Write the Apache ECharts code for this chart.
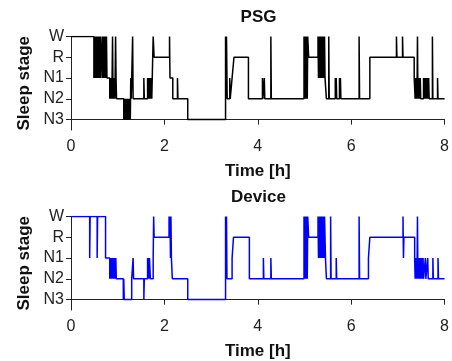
<!DOCTYPE html>
<html><head><meta charset="utf-8">
<script src="https://cdn.jsdelivr.net/npm/echarts@6/dist/echarts.min.js"></script>
<style>html,body{margin:0;padding:0;background:#fff}#c{width:452px;height:361px}</style>
</head><body><div id="c"></div>
<script>
const stageLabels = ['N3', 'N2', 'N1', 'R', 'W'];
const xTickValues = [0, 2, 4, 6, 8];
const panelTitles = ['PSG', 'Device'];

const psgTimes = [0,
  0.49,0.50,0.51,0.52,0.53,0.54,0.55,0.56,0.57,0.58,0.59,0.60,0.61,0.62,0.63,0.64,
  0.67,0.68,0.69,0.70,0.71,0.72,0.73,0.74,0.75,0.76,0.77,
  0.83,0.84,0.85,0.86,0.87,0.88,0.89,0.90,0.91,0.92,0.93,0.94,0.955,0.965,0.975,
  1.13,1.14,1.15,1.16,1.17,1.18,1.19,1.20,1.21,1.22,1.23,1.24,1.25,1.26,1.27,1.28,1.29,1.32,1.33,
  1.56,1.57,1.64,1.65,1.66,1.67,1.68,1.69,1.70,1.71,1.72,1.73,1.74,1.76,1.78,
  2.11,2.12,2.18,2.28,2.29,2.50,3.31,3.32,3.33,3.345,3.40,3.41,3.45,3.49,3.80,
  4.10,4.11,4.14,4.15,4.28,4.29,
  4.99,5.00,5.01,5.02,5.03,5.04,5.05,5.06,5.07,5.09,
  5.29,5.30,5.31,5.32,5.33,5.34,5.35,5.36,5.37,5.38,5.39,5.40,5.41,5.42,5.43,5.44,5.47,5.52,5.53,
  5.66,5.67,5.68,5.69,5.75,5.76,5.77,5.78,6.17,6.18,6.40,6.97,6.98,7.10,7.11,7.35,
  7.37,7.38,7.39,7.40,7.41,7.42,7.43,7.44,7.45,7.46,7.47,7.48,7.49,
  7.55,7.56,7.57,7.58,7.60,7.61,7.63,7.64,7.66,7.67,7.74,7.75,7.85,7.86,8.0];
const psgStages = ['W',
  'N1','W','N1','W','N1','W','N1','W','N1','W','N1','W','N1','W','N1','W',
  'N1','W','N1','W','N1','W','N1','W','N1','W','N1',
  'N2','N1','N2','N1','N2','N1','W','N2','N1','N2','N1','N2','W','N1','N2',
  'N3','N2','N3','N2','N3','N2','N3','N2','N3','N2','N3','N2','N3','N2','N3','N1','N2','W','N2',
  'N1','N2','N1','N2','N1','N2','N1','N2','N1','N2','N1','N2','N1','W','R',
  'W','N1','N2','N1','N2','N3','W','N2','W','N2','N1','N2','N1','R','N2',
  'N1','N2','N1','N2','W','N2',
  'W','N2','W','N2','W','N2','W','N2','W','R',
  'W','N1','W','N1','W','N1','W','N1','W','N1','W','N1','W','N1','W','N1','N2','W','N2',
  'N1','N2','N1','N2','N1','N2','N1','N2','W','N2','R','W','R','W','R','N1',
  'N2','N1','N2','N1','N2','W','N2','N1','N2','N1','N2','N1','N2',
  'N1','N2','N1','N2','N1','N2','N1','N2','N1','N2','W','N2','N1','N2','N2'];

const devTimes = [0,
  0.40,0.41,0.56,0.57,0.74,
  0.83,0.84,0.85,0.86,0.87,0.88,0.89,0.90,0.91,0.92,0.93,0.94,0.95,0.96,0.97,
  1.12,1.13,1.14,1.30,1.33,1.34,1.56,1.57,1.64,1.65,1.66,1.67,1.68,1.70,1.76,1.77,1.78,
  2.10,2.11,2.12,2.13,2.14,2.15,2.17,2.50,3.31,3.32,3.33,3.34,3.45,3.48,3.82,
  4.12,4.13,4.28,4.29,
  4.99,5.00,5.01,5.02,5.03,5.04,5.05,5.06,5.07,5.09,
  5.29,5.30,5.31,5.32,5.33,5.34,5.35,5.36,5.37,5.38,5.39,5.40,5.41,5.42,5.43,5.45,5.47,5.56,5.57,
  5.68,5.69,6.17,6.18,6.37,6.40,7.11,7.12,7.13,7.36,
  7.37,7.38,7.39,7.40,7.41,7.42,7.43,7.44,7.45,7.46,7.47,7.48,7.49,7.50,7.51,7.52,7.53,7.54,7.55,
  7.59,7.60,7.64,7.65,7.75,7.76,7.86,7.87,8.0];
const devStages = ['W',
  'N1','W','N1','W','N1',
  'N2','N1','N2','N1','N2','N1','N2','N1','N2','N1','N2','N1','N2','N1','N2',
  'N3','N2','N3','N2','N1','N2','N3','N2','N1','N2','N1','N2','N1','N2','N1','W','R',
  'W','R','W','N1','W','N1','N2','N3','W','N2','W','N2','N1','R','N2',
  'N1','N2','N1','N2',
  'W','N2','W','N2','W','N2','W','N2','W','R',
  'W','N1','W','N1','W','N1','W','N1','W','N1','W','N1','W','N1','W','N1','N2','W','N2',
  'N1','N2','W','N2','N1','R','W','N1','R','N1',
  'N2','N1','N2','N1','N2','W','N2','N1','N2','N1','N2','N1','N2','N1','N2','N1','N2','N1','N2',
  'N1','N2','N1','N2','N1','N2','N1','N2','N2'];

const FONT = '"Liberation Sans", Arial, sans-serif';
const toData = (ts, ss) => ts.map((t, i) => [t, stageLabels.indexOf(ss[i])]);

const gridTops = [36.5, 216.5];
const grids = gridTops.map(t => ({left: 71, right: 6, top: t, height: 93.5}));

const xAxes = grids.map((g, i) => ({
  type: 'value', gridIndex: i, min: 0, max: 8, interval: 2,
  name: 'Time [h]', nameLocation: 'middle', nameGap: 33,
  nameTextStyle: {fontFamily: FONT, fontSize: 17, fontWeight: 'bold', color: '#111'},
  axisLine: {show: true, lineStyle: {color: '#222', width: 1}},
  axisTick: {show: true, length: 5, lineStyle: {color: '#222'}},
  axisLabel: {fontFamily: FONT, fontSize: 16, color: '#222', margin: 9},
  splitLine: {show: false}
}));

const yAxes = grids.map((g, i) => ({
  type: 'value', gridIndex: i, min: -0.5, max: 4,
  name: 'Sleep stage', nameLocation: 'middle', nameGap: 36, nameRotate: 90,
  nameTextStyle: {fontFamily: FONT, fontSize: 17, fontWeight: 'bold', color: '#111'},
  axisLine: {show: true, lineStyle: {color: '#222', width: 1}},
  axisTick: {show: true, length: 5, customValues: [0, 1, 2, 3, 4], lineStyle: {color: '#222'}},
  axisLabel: {fontFamily: FONT, fontSize: 16, color: '#222', margin: 7,
    customValues: [0, 1, 2, 3, 4], formatter: v => stageLabels[Math.round(v)]},
  splitLine: {show: false}
}));

const chart = echarts.init(document.getElementById('c'), null, {renderer: 'canvas'});
chart.setOption({
  animation: false,
  backgroundColor: '#fff',
  title: panelTitles.map((t, i) => ({
    text: t, left: 258.5, textAlign: 'center', top: [9, 189][i], padding: 0,
    textStyle: {fontFamily: FONT, fontSize: 17, fontWeight: 'bold', color: '#111'}
  })),
  grid: grids,
  xAxis: xAxes,
  yAxis: yAxes,
  series: [
    {type: 'line', xAxisIndex: 0, yAxisIndex: 0, step: 'end', symbol: 'none',
     lineStyle: {color: '#000', width: 1.5}, data: toData(psgTimes, psgStages)},
    {type: 'line', xAxisIndex: 1, yAxisIndex: 1, step: 'end', symbol: 'none',
     lineStyle: {color: '#0000ff', width: 1.5}, data: toData(devTimes, devStages)}
  ]
});
</script></body></html>
